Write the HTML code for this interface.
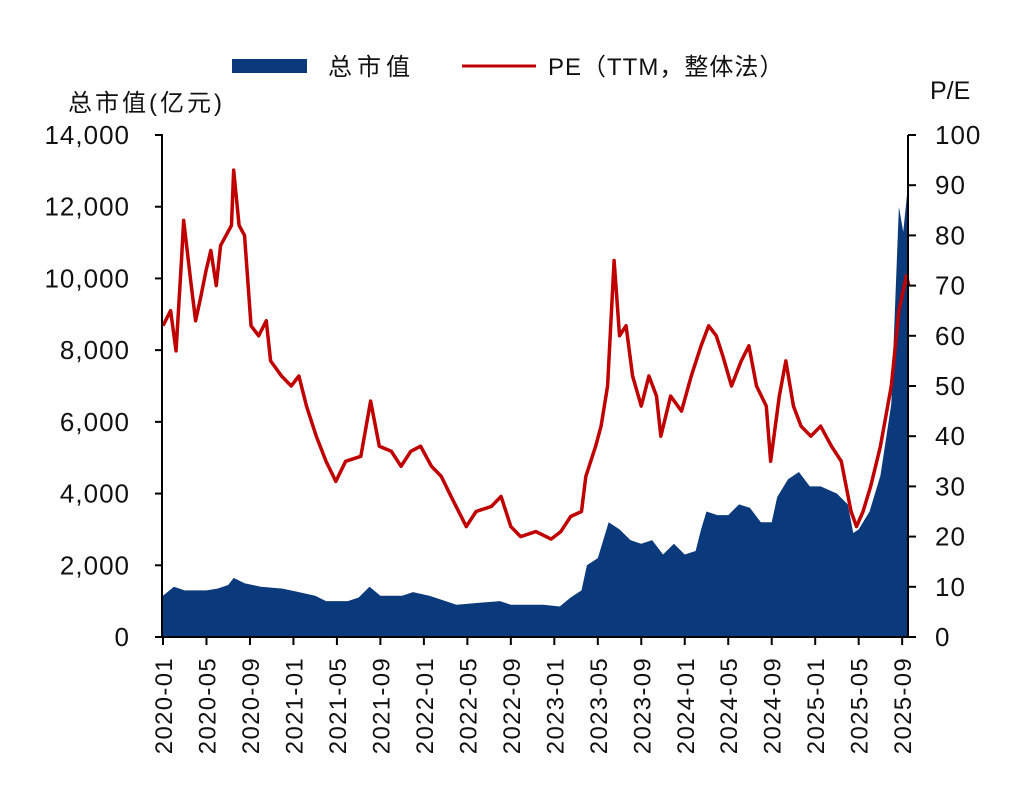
<!DOCTYPE html>
<html><head><meta charset="utf-8">
<style>
body{margin:0;background:#fff;}
svg text{font-family:"Liberation Sans","Noto Sans CJK SC",sans-serif;fill:#111;}
</style></head>
<body>
<svg id="chart" width="1024" height="797" viewBox="0 0 1024 797" xmlns="http://www.w3.org/2000/svg">
<g>
<rect x="232" y="59" width="75" height="14" fill="#0b3a7c"/>
<text x="328" y="75" font-size="24" letter-spacing="5">总市值</text>
<line x1="462" y1="66" x2="536" y2="66" stroke="#c00000" stroke-width="3"/>
<text x="548" y="75" font-size="24" letter-spacing="1">PE（TTM，整体法）</text>
</g>
<text x="68" y="111" font-size="24" letter-spacing="3">总市值(亿元)</text>
<text x="930" y="99" font-size="25">P/E</text>
<g id="plot"></g>
</svg>
<script>
const capMonths=[0,1,2,4,5,6,6.5,7.5,9,11,12.5,14,15,17,18,19,20,22,23,24.5,26,27,29,31,32,35,36.5,37.5,38.5,39,40,41,42,43,44,45,46,47,48,49,49.5,50,51,52,53,54,55,56,56.5,57.5,58.5,59.5,60.5,62,63,63.5,64,65,66,67,67.7,68.1,68.5,68.6];
const capValues=[1150,1400,1300,1300,1350,1450,1650,1500,1400,1350,1250,1150,1000,1000,1100,1400,1150,1150,1250,1150,1000,900,950,1000,900,900,850,1100,1300,2000,2200,3200,3000,2700,2600,2700,2300,2600,2300,2400,3000,3500,3400,3400,3700,3600,3200,3200,3900,4400,4600,4200,4200,4000,3700,2900,3000,3500,4500,6500,12000,11300,12500,12000];
const peMonths=[0,0.7,1.2,1.7,1.9,2.6,3.0,3.5,3.96,4.4,4.9,5.3,5.8,6.3,6.5,7.0,7.5,8.1,8.8,9.5,9.9,10.9,11.8,12.5,13.2,14.1,15.0,15.9,16.8,18.2,19.1,19.9,21.0,21.9,22.8,23.7,24.7,25.6,26.5,27.9,28.8,30.2,31.1,32.0,32.9,34.3,35.7,36.6,37.5,38.5,38.9,39.8,40.3,40.9,41.5,42.0,42.6,43.2,44.0,44.7,45.4,45.8,46.7,47.7,48.6,49.5,50.2,50.9,51.5,52.3,53.2,53.9,54.6,55.5,55.9,56.7,57.3,58.0,58.7,59.6,60.5,61.5,62.4,63.3,63.8,64.4,65.1,66.0,67.0,67.7,68.4,68.6];
const peValues=[62,65,57,75,83,70,63,68,73,77,70,78,80,82,93,82,80,62,60,63,55,52,50,52,46,40,35,31,35,36,47,38,37,34,37,38,34,32,28,22,25,26,28,22,20,21,19.5,21,24,25,32,38,42,50,75,60,62,52,46,52,48,40,48,45,52,58,62,60,56,50,55,58,50,46,35,48,55,46,42,40,42,38,35,25,22,25,30,38,50,65,72,70];
const leftTicks=[0,2000,4000,6000,8000,10000,12000,14000];
const leftTickLabels=["0","2,000","4,000","6,000","8,000","10,000","12,000","14,000"];
const rightTicks=[0,10,20,30,40,50,60,70,80,90,100];
const xTickMonths=[0,4,8,12,16,20,24,28,32,36,40,44,48,52,56,60,64,68];
const xTickLabels=["2020-01","2020-05","2020-09","2021-01","2021-05","2021-09","2022-01","2022-05","2022-09","2023-01","2023-05","2023-09","2024-01","2024-05","2024-09","2025-01","2025-05","2025-09"];

const X0=163,X1=908,Y0=637,Y1=135;
const xs=m=>X0+m*10.87;
const yL=v=>Y0-(v/14000)*(Y0-Y1);
const yR=v=>Y0-(v/100)*(Y0-Y1);
const NS="http://www.w3.org/2000/svg";
const plot=document.getElementById('plot');
function mk(t,a){const e=document.createElementNS(NS,t);for(const k in a)e.setAttribute(k,a[k]);plot.appendChild(e);return e;}

let d=`M${xs(capMonths[0])},${Y0}`;
capMonths.forEach((m,i)=>{d+=` L${xs(m)},${yL(capValues[i])}`;});
d+=` L${xs(capMonths[capMonths.length-1])},${Y0} Z`;
const area=mk('path',{d:d,fill:'#0b3a7c'});



let p=peMonths.map((m,i)=>`${i?'L':'M'}${xs(m)},${yR(peValues[i])}`).join(' ');
const line=mk('path',{d:p,fill:'none',stroke:'#c00000','stroke-width':3.5,'stroke-linejoin':'round'});



const la=mk('line',{x1:X0-1,y1:Y1,x2:X0-1,y2:Y0,stroke:'#000','stroke-width':2});


const ra=mk('line',{x1:X1,y1:Y1,x2:X1,y2:Y0,stroke:'#000','stroke-width':2});


const ba=mk('line',{x1:X0-2,y1:Y0,x2:X1+1,y2:Y0,stroke:'#000','stroke-width':2});



leftTicks.forEach((v,i)=>{
  const y=yL(v);
  const t=mk('line',{x1:X0-8,y1:y,x2:X0,y2:y,stroke:'#000','stroke-width':2});
  
  
  const l=mk('text',{x:130,y:y+9,'font-size':26,'text-anchor':'end','letter-spacing':1});
  l.textContent=leftTickLabels[i];
  
  
});
rightTicks.forEach(v=>{
  const y=yR(v);
  const t=mk('line',{x1:X1,y1:y,x2:X1+8,y2:y,stroke:'#000','stroke-width':2});
  
  
  const l=mk('text',{x:935,y:y+9,'font-size':26,'letter-spacing':1});
  l.textContent=String(v);
  
  
});
xTickMonths.forEach((m,i)=>{
  const x=xs(m);
  const t=mk('line',{x1:x,y1:Y0,x2:x,y2:Y0+8,stroke:'#000','stroke-width':2});
  
  
  const l=mk('text',{x:0,y:0,'font-size':24,'text-anchor':'end','letter-spacing':1.3,transform:`translate(${x+9},${Y0+20}) rotate(-90)`});
  l.textContent=xTickLabels[i];
  
  
});
</script>
</body></html>
